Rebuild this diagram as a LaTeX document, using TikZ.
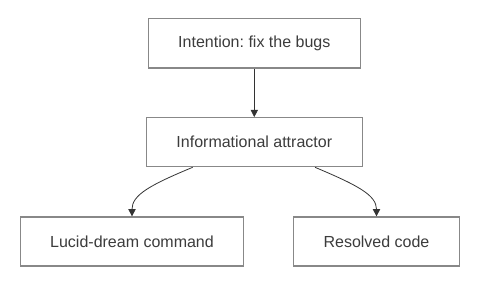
\documentclass[tikz,border=0pt]{standalone}
\usepackage{fontspec}
\setmainfont{Liberation Sans}
\usetikzlibrary{arrows.meta}
\frenchspacing
\definecolor{txt}{HTML}{3C3C3C}
\definecolor{brd}{HTML}{888888}
\definecolor{edge}{HTML}{333333}
\begin{document}
\begin{tikzpicture}[x=0.75pt,y=-0.75pt,
  box/.style={draw=brd,line width=0.9pt,fill=white,text=txt,inner sep=0pt,
    font=\fontsize{12pt}{14pt}\selectfont},
  conn/.style={draw=edge,line width=0.6pt,-{Triangle[length=5.5pt,width=5.5pt]}}]
\useasboundingbox (0,0) rectangle (483,284);
\node[box,minimum width=212*0.75pt,minimum height=49.3*0.75pt] (a) at (254.3,43.3) {Intention: fix the bugs};
\node[box,minimum width=216*0.75pt,minimum height=49*0.75pt] (b) at (254.3,142.2) {Informational attractor};
\node[box,minimum width=223.4*0.75pt,minimum height=49*0.75pt] (c) at (132,241.5) {Lucid-dream command};
\node[box,minimum width=166.4*0.75pt,minimum height=49*0.75pt] (d) at (376.5,241.5) {Resolved code};
\draw[conn] (a.south) -- (b.north);
\coordinate (bl) at (192.7,166.7);
\coordinate (br) at (315,166.7);
\draw[conn] (b.south -| bl) .. controls (150,185) and (132,195) .. (c.north);
\draw[conn] (b.south -| br) .. controls (357,185) and (376.5,195) .. (d.north);
\end{tikzpicture}
\end{document}
